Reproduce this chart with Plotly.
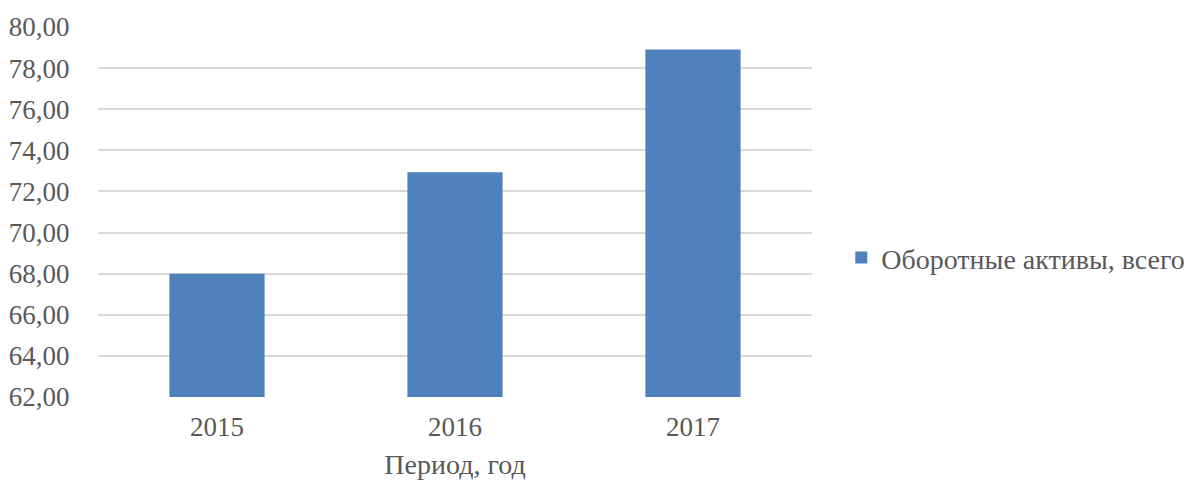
import plotly.graph_objects as go

# Оборотные активы по годам
years = ["2015", "2016", "2017"]
current_assets = [68.0, 72.93, 78.9]
series_name = "Оборотные активы, всего"
x_title = "Период, год"

FONT = "Liberation Serif"
TEXT_COLOR = "#595959"
BAR_COLOR = "#4F81BD"
GRID_COLOR = "#D9D9D9"

fig = go.Figure()
fig.add_trace(go.Bar(
    x=years,
    y=current_assets,
    name=series_name,
    marker=dict(color=BAR_COLOR, line=dict(width=0)),
    showlegend=True,
))

fig.update_layout(
    width=1187,
    height=483,
    margin=dict(l=98, r=375, t=27, b=86, autoexpand=False),
    paper_bgcolor="white",
    plot_bgcolor="white",
    font=dict(family=FONT, size=27, color=TEXT_COLOR),
    separators=", ",
    bargap=0.6,
    showlegend=True,
    legend=dict(
        x=1.041, xanchor="left",
        y=0.376, yanchor="middle",
        font=dict(family=FONT, size=28, color=TEXT_COLOR),
        bgcolor="rgba(0,0,0,0)",
    ),
    xaxis=dict(
        showgrid=False,
        showline=False,
        zeroline=False,
        automargin=False,
        ticks="outside",
        ticklen=6,
        tickcolor="rgba(0,0,0,0)",
        tickfont=dict(family=FONT, size=27, color=TEXT_COLOR),
        title=dict(text=x_title, font=dict(family=FONT, size=28, color=TEXT_COLOR), standoff=12),
    ),
    yaxis=dict(
        range=[62, 80],
        dtick=2,
        tick0=62,
        tickformat=".2f",
        showgrid=True,
        gridcolor=GRID_COLOR,
        gridwidth=1.5,
        zeroline=False,
        showline=False,
        automargin=False,
        ticks="outside",
        ticklen=22,
        tickcolor="rgba(0,0,0,0)",
        tickfont=dict(family=FONT, size=27, color=TEXT_COLOR),
    ),
)

fig.write_html("out.html")
